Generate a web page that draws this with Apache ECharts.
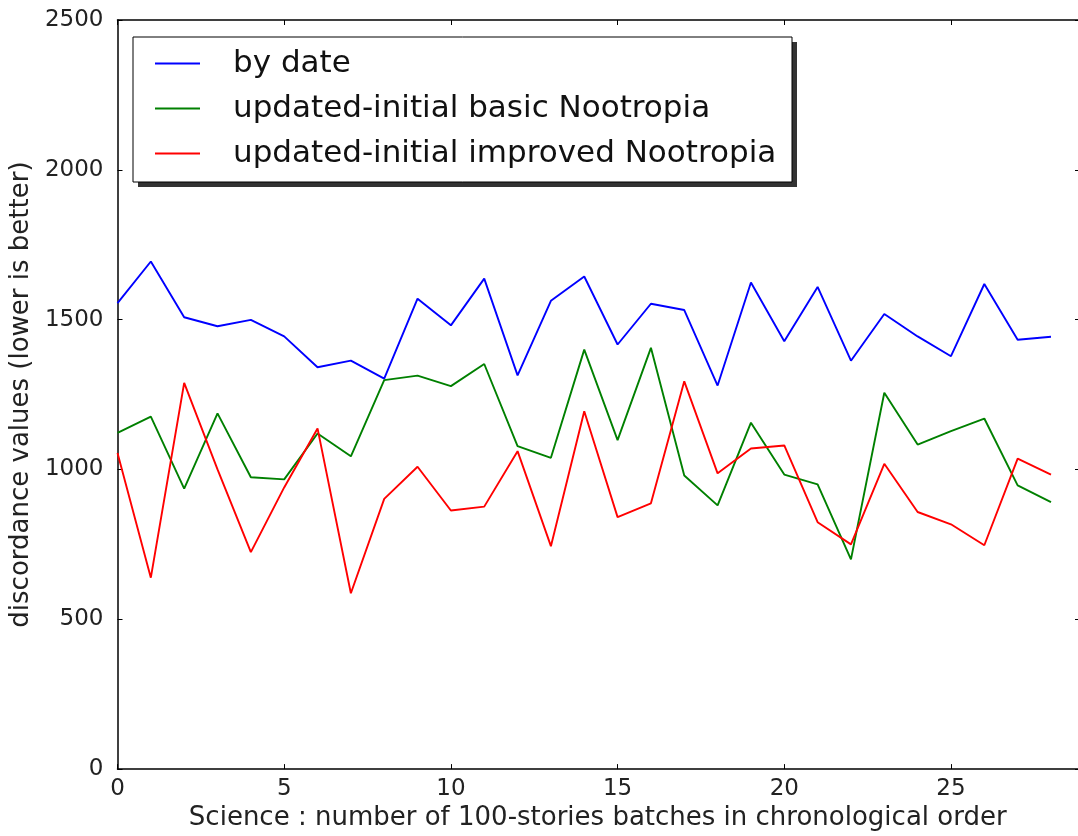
<!DOCTYPE html>
<html>
<head>
<meta charset="utf-8">
<script src="https://cdn.jsdelivr.net/npm/echarts@6/dist/echarts.min.js"></script>
<style>
html,body{margin:0;padding:0;background:#fff;}
#chart{width:1078px;height:836px;}
</style>
</head>
<body>
<div id="chart"></div>
<script>
var batches = [0,1,2,3,4,5,6,7,8,9,10,11,12,13,14,15,16,17,18,19,20,21,22,23,24,25,26,27,28];
var byDate = [1555,1694,1508,1478,1499,1444,1341,1363,1303,1570,1481,1637,1314,1563,1644,1417,1553,1532,1280,1624,1428,1609,1363,1519,1444,1378,1619,1433,1443];
var basicNootropia = [1122,1176,936,1187,974,967,1120,1044,1298,1313,1278,1352,1078,1039,1400,1098,1406,980,880,1156,983,950,700,1256,1083,1128,1170,947,891];
var improvedNootropia = [1055,639,1289,1000,724,940,1137,587,902,1009,863,876,1061,744,1194,841,887,1294,987,1070,1080,824,750,1019,858,817,747,1036,983];
var seriesNames = ['by date','updated-initial basic Nootropia','updated-initial improved Nootropia'];
var xTitle = 'Science : number of 100-stories batches in chronological order';
var yTitle = 'discordance values (lower is better)';

function pairs(arr){ return arr.map(function(v,i){ return [batches[i], v]; }); }

var font = 'DejaVu Sans';
var chart = echarts.init(document.getElementById('chart'), null, {renderer:'canvas'});
var axisLineStyle = {color:'#000', width:1.5};
var option = {
  backgroundColor:'#fff',
  animation:false,
  grid:{left:117.5, right:0, top:20, bottom:66, containLabel:false},
  xAxis:[{
    type:'value', min:0, max:28.81, interval:5, position:'bottom',
    name:xTitle, nameLocation:'middle', nameGap:32,
    nameTextStyle:{fontFamily:font, fontSize:26, color:'#222'},
    axisLine:{show:true, onZero:false, lineStyle:axisLineStyle},
    axisTick:{show:true, inside:true, length:5, lineStyle:{color:'#000', width:1}},
    axisLabel:{show:true, fontFamily:font, fontSize:23, color:'#222', margin:8, showMaxLabel:false,
      formatter:function(v){ return (v % 5 === 0) ? String(v) : ''; }},
    splitLine:{show:false}
  },{
    type:'value', min:0, max:28.81, interval:5, position:'top',
    axisLine:{show:true, onZero:false, lineStyle:axisLineStyle},
    axisTick:{show:true, inside:true, length:5, lineStyle:{color:'#000', width:1}},
    axisLabel:{show:false}, splitLine:{show:false}
  }],
  yAxis:[{
    type:'value', min:0, max:2500, interval:500, position:'left',
    name:yTitle, nameLocation:'middle', nameGap:82, nameRotate:90,
    nameTextStyle:{fontFamily:font, fontSize:26, color:'#222'},
    axisLine:{show:true, onZero:false, lineStyle:axisLineStyle},
    axisTick:{show:true, inside:true, length:5, lineStyle:{color:'#000', width:1}},
    axisLabel:{show:true, fontFamily:font, fontSize:23, color:'#222', margin:14,
      formatter:function(v){ return String(v); }},
    splitLine:{show:false}
  },{
    type:'value', min:0, max:2500, interval:500, position:'right',
    axisLine:{show:false, onZero:false},
    axisTick:{show:true, inside:true, length:3, lineStyle:{color:'#000', width:1}},
    axisLabel:{show:false}, splitLine:{show:false}
  }],
  legend:{
    orient:'vertical', left:155, top:48, padding:0, itemGap:14,
    itemWidth:45, itemHeight:2, icon:'rect',
    data:seriesNames,
    textStyle:{fontFamily:font, fontSize:31, lineHeight:30, color:'#111', padding:[0,0,0,28]},
    selectedMode:false
  },
  graphic:[
    {type:'rect', z:3, shape:{x:138, y:42, width:659, height:145}, style:{fill:'#333'}},
    {type:'rect', z:3, shape:{x:133, y:37, width:659, height:145}, style:{fill:'#fff', stroke:'#000', lineWidth:1}}
  ],
  series:[
    {name:seriesNames[0], type:'line', data:pairs(byDate), showSymbol:false, lineStyle:{color:'#0000ff', width:1.9}, itemStyle:{color:'#0000ff'}},
    {name:seriesNames[1], type:'line', data:pairs(basicNootropia), showSymbol:false, lineStyle:{color:'#008000', width:1.9}, itemStyle:{color:'#008000'}},
    {name:seriesNames[2], type:'line', data:pairs(improvedNootropia), showSymbol:false, lineStyle:{color:'#ff0000', width:1.9}, itemStyle:{color:'#ff0000'}}
  ]
};
chart.setOption(option);
</script>
</body>
</html>
